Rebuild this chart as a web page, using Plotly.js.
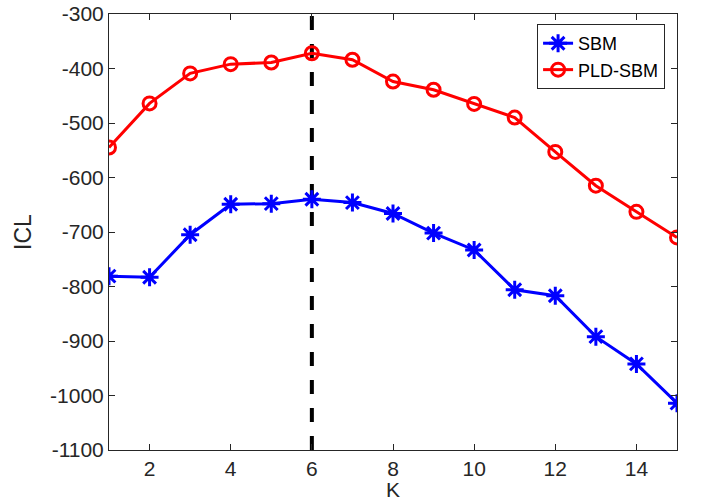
<!DOCTYPE html>
<html>
<head>
<meta charset="utf-8">
<script src="https://cdn.plot.ly/plotly-3.0.1.min.js"></script>
<style>html,body{margin:0;padding:0;background:#fff;}#chart{width:704px;height:501px;}</style>
</head>
<body>
<div id="chart"></div>
<script>
const K = [1, 2, 3, 4, 5, 6, 7, 8, 9, 10, 11, 12, 13, 14, 15];
const sbm = [-781, -783, -705, -649, -648, -640, -646, -666, -702, -733, -806, -817, -892, -942, -1014];
const pldSbm = [-545, -464, -409, -392, -389, -372, -384, -424, -439, -465, -490, -553, -615, -663, -710];
const bestK = 6;
const xTicks = [2, 4, 6, 8, 10, 12, 14];
const yTicks = [-1100, -1000, -900, -800, -700, -600, -500, -400, -300];

const axisColor = '#262626';
const traces = [
  {
    x: K, y: sbm, name: 'SBM', type: 'scatter', mode: 'lines+markers',
    line: {color: '#0000ff', width: 3},
    marker: {symbol: 'asterisk-open', size: 15, color: '#0000ff', line: {color: '#0000ff', width: 3}}
  },
  {
    x: K, y: pldSbm, name: 'PLD-SBM', type: 'scatter', mode: 'lines+markers',
    line: {color: '#ff0000', width: 3},
    marker: {symbol: 'circle-open', size: 13, color: '#ff0000', line: {color: '#ff0000', width: 3}}
  }
];

const layout = {
  width: 704, height: 501,
  margin: {l: 109, r: 27, t: 14, b: 51},
  paper_bgcolor: '#fff', plot_bgcolor: '#fff',
  font: {family: 'Liberation Sans, Arial, sans-serif', size: 21, color: axisColor},
  showlegend: true,
  legend: {
    x: 0.979, xanchor: 'right', y: 0.977, yanchor: 'top',
    bgcolor: '#fff', bordercolor: axisColor, borderwidth: 1,
    font: {size: 18, color: '#000'},
    tracegroupgap: 0, itemwidth: 30
  },
  xaxis: {
    range: [1, 15], tickvals: xTicks, ticktext: xTicks.map(String),
    ticks: 'inside', ticklen: 6, tickwidth: 1, tickcolor: axisColor,
    showline: true, linecolor: axisColor, linewidth: 1, mirror: 'ticks',
    showgrid: false, zeroline: false,
    title: {text: 'K', font: {size: 21, color: axisColor}, standoff: 2}
  },
  yaxis: {
    range: [-1100, -300], tickvals: yTicks, ticktext: yTicks.map(String),
    ticks: 'inside', ticklen: 6, tickwidth: 1, tickcolor: axisColor,
    showline: true, linecolor: axisColor, linewidth: 1, mirror: 'ticks',
    showgrid: false, zeroline: false,
    title: {text: 'ICL', font: {size: 23, color: axisColor}, standoff: 12}
  },
  shapes: [{
    type: 'line', xref: 'x', yref: 'paper', x0: bestK, x1: bestK, y0: 0, y1: 1,
    line: {color: '#000', width: 4, dash: '14px,14px'}, layer: 'below'
  }]
};

Plotly.newPlot('chart', traces, layout, {displayModeBar: false, staticPlot: true});
</script>
</body>
</html>
